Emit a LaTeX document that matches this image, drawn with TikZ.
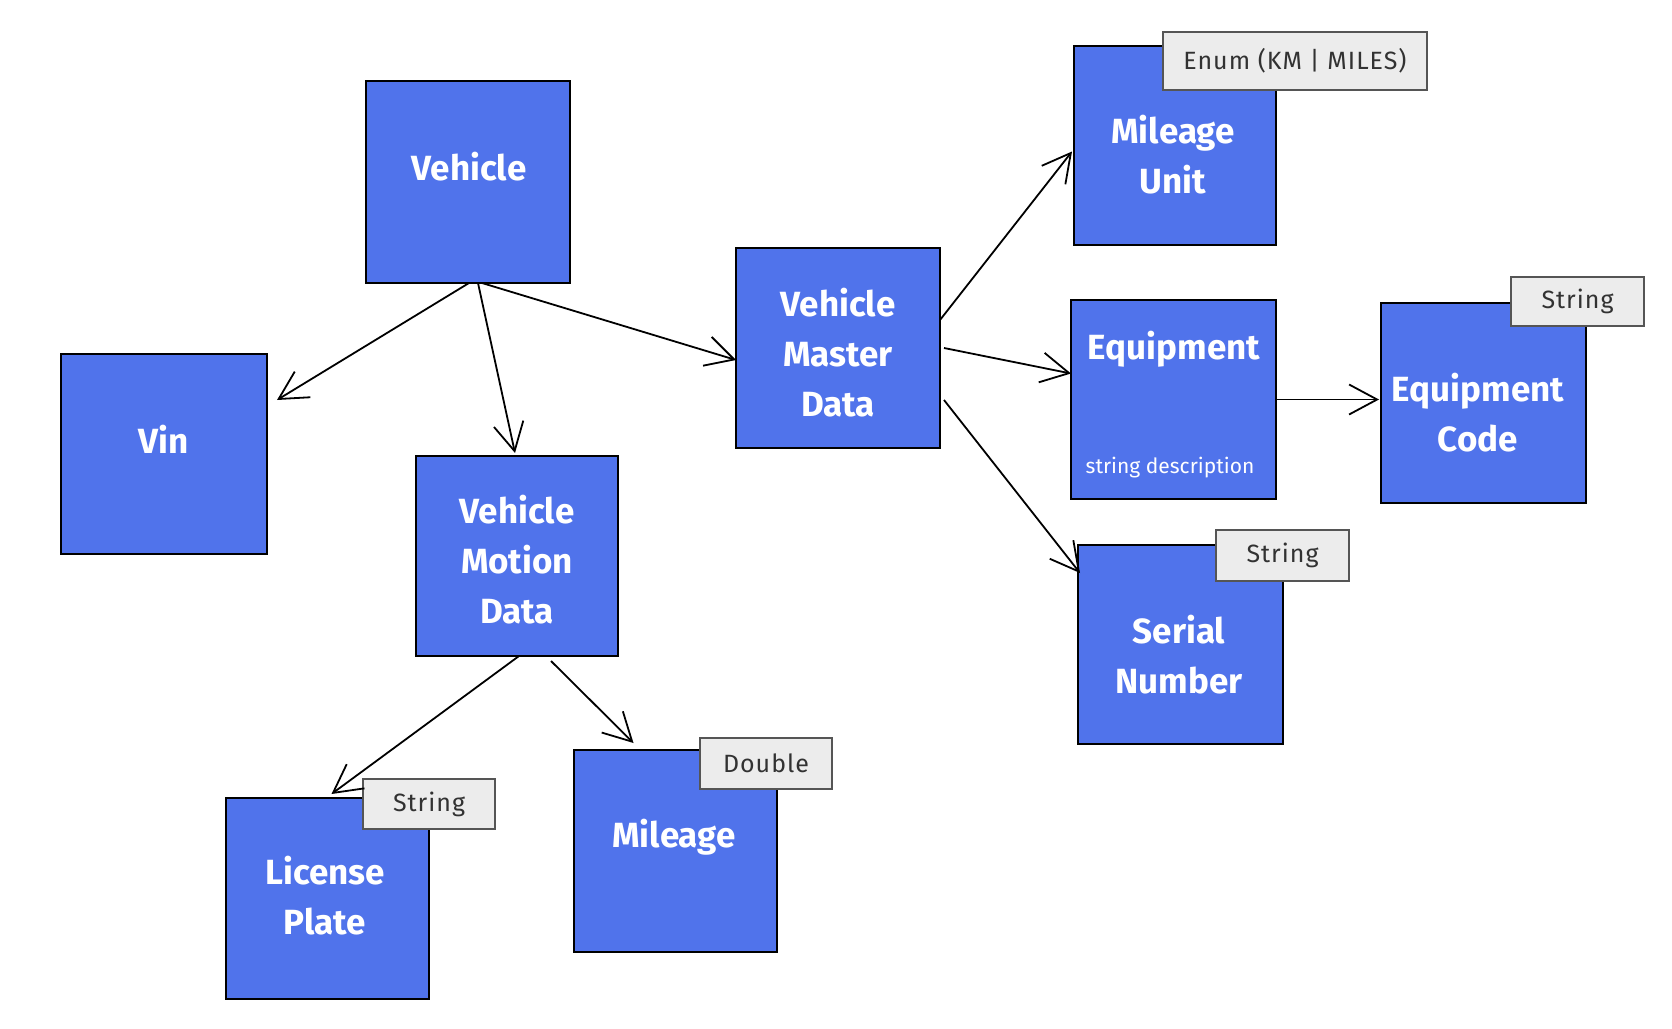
\documentclass[tikz,border=0pt]{standalone}
\usepackage{fontspec}
\setmainfont{Fira Sans}
\usetikzlibrary{arrows.meta,calc}
\definecolor{boxblue}{RGB}{80,115,235}
\definecolor{tagfill}{RGB}{236,236,236}
\definecolor{tagline}{RGB}{85,85,85}
\definecolor{tagtext}{RGB}{50,50,50}
\tikzset{
  ebox/.style={draw=black, line width=2pt, fill=boxblue, inner sep=0pt, outer sep=0pt, anchor=north west},
  etag/.style={draw=tagline, line width=2pt, fill=tagfill, inner sep=0pt, outer sep=0pt, anchor=north west},
  ttext/.style={text=tagtext, font=\fontsize{25}{30}\selectfont\addfontfeatures{LetterSpace=4}},
  elabel/.style={text=white, align=center, font=\fontsize{35}{50}\selectfont\bfseries},
  esmall/.style={text=white, font=\fontsize{21}{24}\selectfont},
  arr/.style={draw=black, line width=1.8pt, -{Straight Barb[length=28pt,width=30pt,line width=1.8pt]}},
}
\begin{document}
\begin{tikzpicture}[x=1pt,y=-1pt]
\useasboundingbox (0,0) rectangle (1672,1028);
% boxes
\node[ebox, minimum width=204pt, minimum height=202pt] (vehicle) at (366,81) {};
\node[ebox, minimum width=206pt, minimum height=200pt] (vin) at (61,354) {};
\node[ebox, minimum width=202pt, minimum height=200pt] (vmd) at (416,456) {};
\node[ebox, minimum width=204pt, minimum height=200pt] (vmaster) at (736,248) {};
\node[ebox, minimum width=202pt, minimum height=199pt] (mu) at (1074,46) {};
\node[ebox, minimum width=205pt, minimum height=199pt] (equip) at (1071,300) {};
\node[ebox, minimum width=205pt, minimum height=200pt] (ecode) at (1381,303) {};
\node[ebox, minimum width=205pt, minimum height=199pt] (serial) at (1078,545) {};
\node[ebox, minimum width=203pt, minimum height=201pt] (lp) at (226,798) {};
\node[ebox, minimum width=203pt, minimum height=202pt] (ml) at (574,750) {};
% tags
\node[etag, minimum width=264pt, minimum height=58pt] (tagmu) at (1163,32) {};
\node[etag, minimum width=133pt, minimum height=49pt] (tagec) at (1511,277) {};
\node[etag, minimum width=133pt, minimum height=51pt] (tagsn) at (1216,530) {};
\node[etag, minimum width=132pt, minimum height=50pt] (taglp) at (363,779) {};
\node[etag, minimum width=132pt, minimum height=51pt] (tagml) at (700,738) {};
\node[ttext] (tmu) at (tagmu.center) {Enum (KM | MILES)};
\node[ttext] (tec) at (tagec.center) {String};
\node[ttext] (tsn) at (tagsn.center) {String};
\node[ttext] (tlp) at (taglp.center) {String};
\node[ttext] (tml) at (tagml.center) {Double};
% labels
\node[elabel] (lvehicle) at (469,167) {Vehicle};
\node[elabel] (lvin) at (164,439) {Vin};
\node[elabel] (lvmd) at (517,560) {Vehicle\\Motion\\Data};
\node[elabel] (lvmaster) at (838,353) {Vehicle\\Master\\Data};
\node[elabel] (lmu) at (1173,155) {Mileage\\Unit};
\node[elabel] (lequip) at (1174,349) {Equipment};
\node[esmall] (lequipdesc) at (1170,468) {string description};
\node[elabel] (lecode) at (1478,413) {Equipment\\Code};
\node[elabel] (lserial) at (1179,655) {Serial\\Number};
\node[elabel] (llp) at (325,896) {License\\Plate};
\node[elabel] (lml) at (674,837) {Mileage};
% arrows
\draw[arr] ([xshift=1pt]vehicle.south) -- ([xshift=10pt,yshift=-46pt]vin.north east);
\draw[arr] ([xshift=10pt]vehicle.south) -- ([xshift=-2pt,yshift=3pt]vmd.north);
\draw[arr] ([xshift=14pt]vehicle.south) -- ([yshift=-12pt]vmaster.west);
\draw[arr] ([yshift=28pt]vmaster.east) -- ([xshift=-2pt,yshift=-6pt]mu.west);
\draw[arr] ([xshift=4pt]vmaster.east) -- ([yshift=26pt]equip.west);
\draw[arr] ([xshift=4pt,yshift=-52pt]vmaster.east) -- ([xshift=2pt,yshift=-28pt]serial.north west);
\draw[arr] (equip.east) -- ([xshift=-2pt]equip.east -| ecode.west);
\draw[arr] ([xshift=2pt]vmd.south) -- ([xshift=4pt,yshift=4pt]lp.north);
\draw[arr] ([xshift=34pt,yshift=-5pt]vmd.south) -- ([xshift=-42pt,yshift=7pt]ml.north);
\end{tikzpicture}
\end{document}
